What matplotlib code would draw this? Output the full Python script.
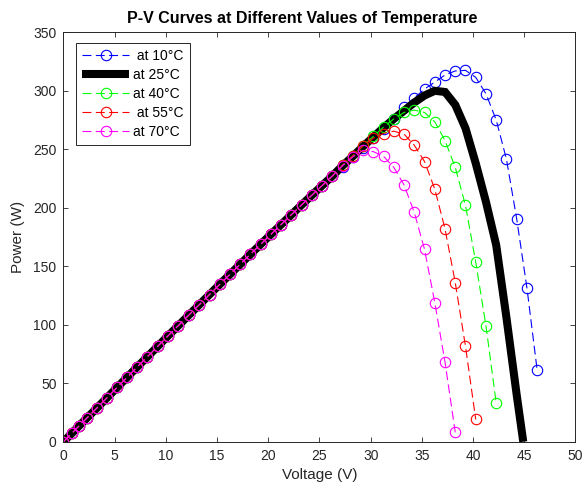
import matplotlib
matplotlib.use("Agg")
import matplotlib.pyplot as plt

# shared voltage grid (V)
volt = [0, 0.86, 1.54, 2.26, 3.24, 4.22, 5.25, 6.23, 7.2, 8.2, 9.2, 10.2, 11.2,
        12.26, 13.26, 14.26, 15.26, 16.26, 17.26, 18.26, 19.26, 20.26, 21.26,
        22.26, 23.26, 24.26, 25.26, 26.26, 27.26, 28.26, 29.26, 30.26, 31.26,
        32.26, 33.26, 34.26, 35.26, 36.26, 37.26, 38.26, 39.26, 40.26, 41.26,
        42.26, 43.26, 44.26, 45.26, 46.26]

# common rising part (W), up to 26.26 V, all curves overlap here
p_rise = [0, 7.6, 13.7, 20.0, 28.6, 37.3, 46.5, 55.2, 63.9, 72.7, 81.5, 90.4,
          99.1, 108.4, 117.1, 125.8, 134.5, 143.1, 151.7, 160.3, 168.8, 177.3,
          185.7, 194.1, 202.5, 210.8, 219.0, 227.2]

# tails from 27.26 V onwards
p_10 = [235, 243, 251.5, 259.5, 267.5, 276, 286, 294, 301.5, 307.5, 313.5, 317,
        317.5, 311.5, 297.5, 275, 241.5, 190.5, 131.5, 61]
p_25 = [236, 244, 252.5, 260.5, 268.5, 276, 283, 290, 296, 300, 299, 288, 268,
        238, 205, 168, 106, 40, 0]
v_25_end = 44.9
p_40 = [236.5, 244.5, 253, 261, 269, 276, 281.5, 283.5, 281.5, 273.5, 257.5,
        234.5, 202, 153.5, 99, 33]
p_55 = [236.5, 244.5, 253, 259.5, 263.5, 265.5, 263, 253.5, 239.5, 216, 182,
        136, 81.5, 19]
p_70 = [236, 243.5, 249, 248, 244, 234.5, 219.5, 196, 164.5, 119, 68, 8]

labels = [" at 10\u00b0C", "at 25\u00b0C", "at 40\u00b0C", " at 55\u00b0C", "at 70\u00b0C"]
colors = ["#0000ff", "#000000", "#00ff00", "#ff0000", "#ff00ff"]

INK = "#262626"
plt.rcParams["font.family"] = ["Liberation Sans", "DejaVu Sans"]


def dashed(ax, p_tail, lab, col):
    p = p_rise + p_tail
    ax.plot(volt[:len(p)], p, color=col, linestyle=(0, (8, 4)), linewidth=0.8,
            marker="o", markersize=7.5, markerfacecolor="none",
            markeredgewidth=0.8, label=lab)


def main():
    fig = plt.figure(figsize=(5.84, 4.92), dpi=100)
    ax = fig.add_axes([0.1087, 0.1022, 0.8767, 0.8321])

    dashed(ax, p_10, labels[0], colors[0])

    p = p_rise + p_25
    v = volt[:len(p) - 1] + [v_25_end]
    ax.plot(v, p, color=colors[1], linewidth=5.8, solid_joinstyle="miter",
            solid_capstyle="butt", label=labels[1])

    dashed(ax, p_40, labels[2], colors[2])
    dashed(ax, p_55, labels[3], colors[3])
    dashed(ax, p_70, labels[4], colors[4])

    ax.set_xlim(0, 50)
    ax.set_ylim(0, 350)
    ax.set_xticks(range(0, 51, 5))
    ax.set_yticks(range(0, 351, 50))
    ax.tick_params(direction="in", top=True, right=True, length=3.6,
                   width=0.6, colors=INK, labelsize=10, labelcolor=INK, pad=5)
    for s in ax.spines.values():
        s.set_color(INK)
        s.set_linewidth(0.7)

    ax.set_xlabel("Voltage (V)", fontsize=11, color=INK, labelpad=4)
    ax.set_ylabel("Power (W)", fontsize=11, color=INK, labelpad=6)
    ax.set_title("P-V Curves at Different Values of Temperature", x=0.466,
                 fontsize=11.5, fontweight="bold", color="black", pad=7)

    leg = ax.legend(loc="upper left", bbox_to_anchor=(0.024, 0.974),
                    borderaxespad=0, fontsize=10, handlelength=3.4,
                    handletextpad=0.3, labelspacing=0.35, borderpad=0.45,
                    fancybox=False, framealpha=1, edgecolor=INK)
    leg.get_frame().set_linewidth(0.7)

    plt.savefig("out.png", dpi=100)


if __name__ == "__main__":
    main()
